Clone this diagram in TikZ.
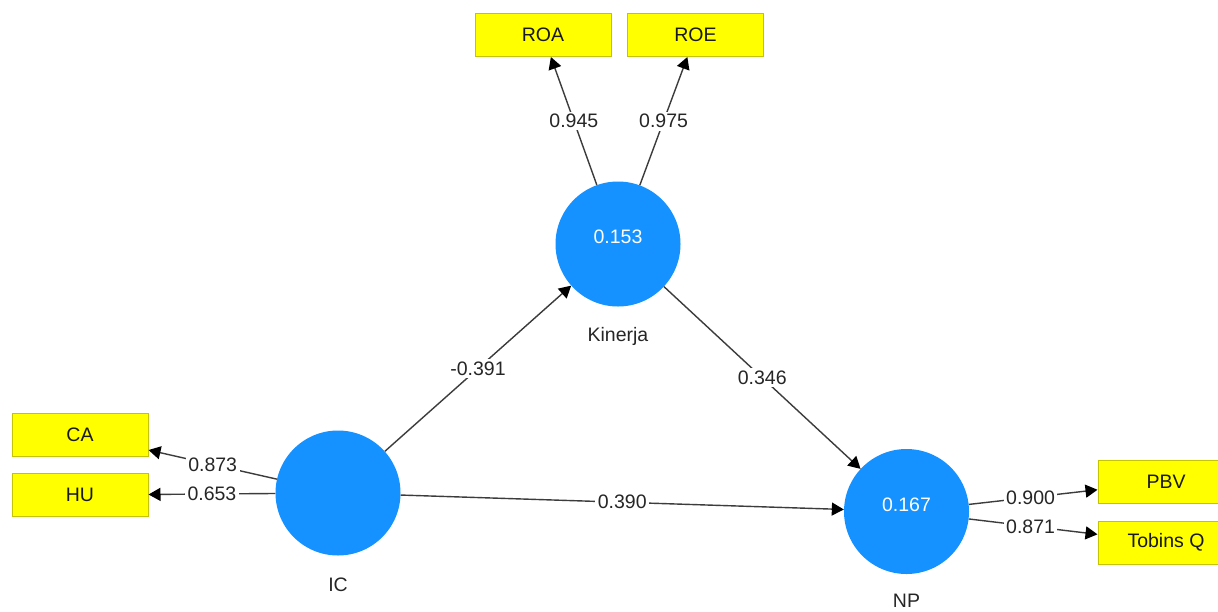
\documentclass[tikz,border=0pt]{standalone}
\usepackage{fontspec}
\setmainfont{Liberation Sans}
\usetikzlibrary{arrows.meta}
\definecolor{lvblue}{RGB}{21,146,255}
\definecolor{mvyellow}{RGB}{255,255,0}
\definecolor{mvborder}{RGB}{196,196,0}
\definecolor{linegray}{RGB}{60,60,60}
\begin{document}
\begin{tikzpicture}[x=1pt,y=-1pt,
  every node/.style={font=\fontsize{19.5}{22}\selectfont},
  latent/.style={circle,fill=lvblue,draw=none,text=white,minimum size=125pt,inner sep=0pt,text depth=14pt},
  manifest/.style={rectangle,fill=mvyellow,draw=mvborder,line width=1pt,minimum width=136pt,minimum height=43pt,inner sep=0pt,text=black!90},
  conn/.style={draw=linegray,line width=1.4pt,-{Triangle[length=12pt,width=13pt,color=black]}},
  coef/.style={fill=white,inner sep=2.5pt,text=black!85,pos=0.5},
  lvname/.style={text=black!85}]
\fill[white] (0,0) rectangle (1218,611);
\clip (0,0) rectangle (1218,611);

% latent variables
\node[latent] (kin) at (618,244) {0.153};
\node[latent] (ic) at (338,493) {};
\node[latent] (np) at (906.5,511.5) {0.167};

\node[lvname] (kinlab) at (618,336) {Kinerja};
\node[lvname] (iclab) at (338,585) {IC};
\node[lvname] (nplab) at (906.5,601) {NP};

% indicators
\node[manifest] (roa) at (543,35) {ROA};
\node[manifest] (roe) at (695.5,35) {ROE};
\node[manifest] (ca) at (80,434.5) {CA};
\node[manifest] (hu) at (80,495) {HU};
\node[manifest] (pbv) at (1166,482) {PBV};
\node[manifest] (tq) at (1166,542.5) {Tobins Q};

% connectors
\draw[conn] (kin) -- node[coef] {0.945} (roa);
\draw[conn] (kin) -- node[coef] {0.975} (roe);
\draw[conn] (ic) -- node[coef] {-0.391} (kin);
\draw[conn] (kin) -- node[coef] {0.346} (np);
\draw[conn] (ic) -- node[coef] {0.390} (np);
\draw[conn] (ic) -- node[coef] {0.873} (ca);
\draw[conn] (ic) -- node[coef] {0.653} (hu);
\draw[conn] (np) -- node[coef,pos=0.48] {0.900} (pbv);
\draw[conn] (np) -- node[coef,pos=0.48] {0.871} (tq);
\end{tikzpicture}
\end{document}
